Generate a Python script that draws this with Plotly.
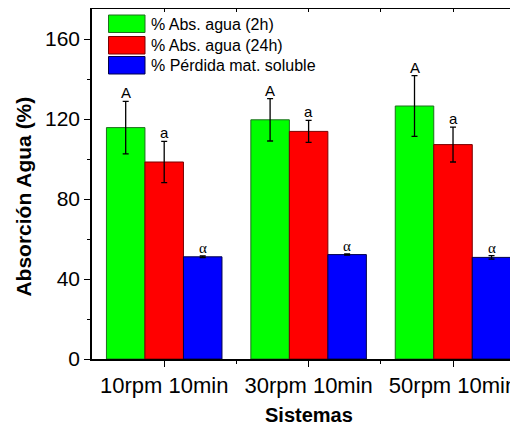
import plotly.graph_objects as go

categories = ["10rpm 10min", "30rpm 10min", "50rpm 10min"]
series_names = ["% Abs. agua (2h)", "% Abs. agua (24h)", "% Pérdida mat. soluble"]
abs_2h = [115.7, 119.6, 126.5]
abs_2h_err = [13.1, 10.6, 15.2]
abs_24h = [98.5, 113.8, 107.2]
abs_24h_err = [10.3, 5.5, 8.7]
perdida = [51.1, 52.2, 50.8]
perdida_err = [0.4, 0.3, 0.9]
labels_2h = ["A", "A", "A"]
labels_24h = ["a", "a", "a"]
labels_perd = ["α", "α", "α"]
y_ticks = [0, 40, 80, 120, 160]

FONT = "Liberation Sans, Arial, sans-serif"
fills = ["#00FF00", "#FF0000", "#0000FF"]
edges = ["#1E6E1E", "#7A0000", "#00004A"]
bargap = 0.2

values = [abs_2h, abs_24h, perdida]
errors = [abs_2h_err, abs_24h_err, perdida_err]
letters = [labels_2h, labels_24h, labels_perd]
xs = list(range(len(categories)))

fig = go.Figure()
for k in range(3):
    fig.add_trace(go.Bar(
        x=xs, y=values[k], name=series_names[k],
        marker=dict(color=fills[k], line=dict(color=edges[k], width=1)),
        error_y=dict(type="data", array=errors[k], color="black", thickness=1.3, width=3),
        showlegend=False,
    ))
# dummy trace for the top mirror axis
fig.add_trace(go.Scatter(x=[None], y=[None], xaxis="x2", showlegend=False, hoverinfo="skip"))

annotations = []
w = (1 - bargap) / 3
for k in range(3):
    for i in xs:
        annotations.append(dict(
            x=i + (k - 1) * w, y=values[k][i] + errors[k][i], xref="x", yref="y",
            text=letters[k][i], showarrow=False, yanchor="bottom", yshift=-2,
            font=dict(size=15, color="black",
                      family=("Liberation Serif, Times New Roman, serif" if k == 2 else FONT)),
        ))

# axis titles
annotations.append(dict(
    x=0, xref="paper", xshift=-68, y=0.464, yref="paper",
    text="<b>Absorción Agua (%)</b>", textangle=-90, showarrow=False,
    xanchor="center", yanchor="middle", font=dict(size=21, family=FONT, color="black"),
))
annotations.append(dict(
    x=1, xref="x", y=0, yref="paper", yshift=-56,
    text="<b>Sistemas</b>", showarrow=False, xanchor="center", yanchor="middle",
    font=dict(size=20, family=FONT, color="black"),
))

# manual legend
shapes = []
row_top = [6, 27.5, 47.5]
for k in range(3):
    top = row_top[k]
    shapes.append(dict(
        type="rect", xref="paper", yref="paper", xsizemode="pixel", ysizemode="pixel",
        xanchor=0, yanchor=1, x0=16.5, x1=53, y0=-top, y1=-(top + 17.5),
        fillcolor=fills[k], line=dict(color=edges[k], width=1),
    ))
    annotations.append(dict(
        x=0, xref="paper", xshift=57, y=1, yref="paper", yshift=-(top + 9),
        text=series_names[k], showarrow=False, xanchor="left", yanchor="middle",
        font=dict(size=16, family=FONT, color="black"),
    ))

xrange = [-0.5, 2.45]
fig.update_layout(
    width=510, height=419,
    margin=dict(l=84, r=0, t=1, b=68),
    paper_bgcolor="white", plot_bgcolor="white",
    barmode="group", bargap=bargap, bargroupgap=0,
    font=dict(family=FONT, color="black"),
    annotations=annotations, shapes=shapes,
    showlegend=False,
    xaxis=dict(
        range=xrange, tickvals=xs, ticktext=categories,
        showline=True, linecolor="black", linewidth=1.5,
        ticks="outside", ticklen=6, tickwidth=1.3, tickcolor="black",
        minor=dict(tickvals=[0.5, 1.5], ticks="outside", ticklen=3, tickwidth=1.3, tickcolor="black"),
        showgrid=False, zeroline=False,
        tickfont=dict(size=22, family=FONT, color="black"),
    ),
    xaxis2=dict(
        range=xrange, overlaying="x", side="top", anchor="y",
        showline=True, linecolor="black", linewidth=1.5,
        ticks="inside", ticklen=3, tickwidth=1.3, tickcolor="black",
        tickvals=xs, showticklabels=False,
        minor=dict(tickvals=[0.5, 1.5], ticks="inside", ticklen=3, tickwidth=1.3, tickcolor="black"),
        showgrid=False, zeroline=False,
    ),
    yaxis=dict(
        range=[0, 175], tickvals=y_ticks,
        showline=True, linecolor="black", linewidth=1.5,
        ticks="outside", ticklen=6, tickwidth=1.3, tickcolor="black",
        minor=dict(dtick=20, tick0=0, ticks="outside", ticklen=3, tickwidth=1.3, tickcolor="black"),
        showgrid=False, zeroline=False,
        tickfont=dict(size=21, family=FONT, color="black"),
    ),
)

fig.write_html("out.html")
